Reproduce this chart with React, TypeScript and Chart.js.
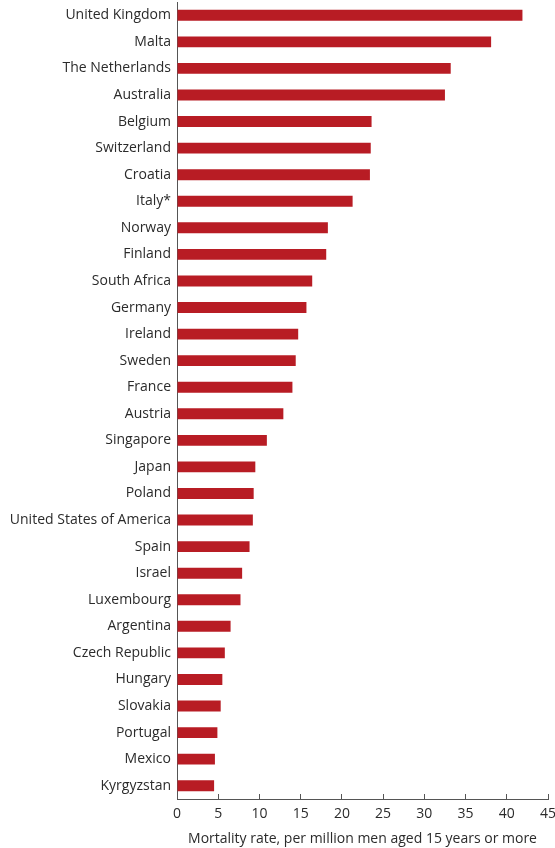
import React, { useEffect, useRef } from "react";
import { Chart, registerables } from "chart.js";

Chart.register(...registerables);

const countries = [
  "United Kingdom", "Malta", "The Netherlands", "Australia", "Belgium",
  "Switzerland", "Croatia", "Italy*", "Norway", "Finland",
  "South Africa", "Germany", "Ireland", "Sweden", "France",
  "Austria", "Singapore", "Japan", "Poland", "United States of America",
  "Spain", "Israel", "Luxembourg", "Argentina", "Czech Republic",
  "Hungary", "Slovakia", "Portugal", "Mexico", "Kyrgyzstan",
];

const mortalityRates = [
  41.9, 38.1, 33.2, 32.5, 23.6,
  23.5, 23.4, 21.3, 18.3, 18.1,
  16.4, 15.7, 14.7, 14.4, 14.0,
  12.9, 10.9, 9.5, 9.3, 9.2,
  8.8, 7.9, 7.7, 6.5, 5.8,
  5.5, 5.3, 4.9, 4.6, 4.5,
];

const xTicks = [0, 5, 10, 15, 20, 25, 30, 35, 40, 45];
const xTitle = "Mortality rate, per million men aged 15 years or more";

const FONT = "'Open Sans', sans-serif";
const BAR = "#b81c24";
const TEXT = "#2b2b2b";
const AXIS = "#555555";

export default function App() {
  const ref = useRef<HTMLCanvasElement | null>(null);

  useEffect(() => {
    document.body.style.margin = "0";
    if (!ref.current) return;
    const zeroPad = (scale: any) => {
      scale.paddingTop = 0;
      scale.paddingBottom = 0;
      scale.paddingLeft = 0;
      scale.paddingRight = 0;
    };
    const chart = new Chart(ref.current, {
      type: "bar",
      data: {
        labels: countries,
        datasets: [
          {
            data: mortalityRates,
            backgroundColor: BAR,
            borderWidth: 0,
            categoryPercentage: 1,
            barPercentage: 0.41,
          },
        ],
      },
      options: {
        indexAxis: "y",
        animation: false,
        responsive: false,
        maintainAspectRatio: false,
        layout: { padding: { top: 2, right: 7, left: 0, bottom: 0 } },
        plugins: { legend: { display: false }, tooltip: { enabled: false } },
        scales: {
          x: {
            min: 0,
            max: 45,
            afterBuildTicks: (scale: any) => {
              scale.ticks = xTicks.map((v) => ({ value: v }));
            },
            afterFit: (scale: any) => {
              scale.height = 49;
              zeroPad(scale);
            },
            grid: {
              drawOnChartArea: false,
              drawTicks: true,
              tickLength: -5,
              color: AXIS,
              lineWidth: 1,
            },
            border: { display: true, color: AXIS, width: 1 },
            ticks: {
              color: TEXT,
              font: { family: FONT, size: 14 },
              padding: 12,
              maxRotation: 0,
            },
            title: {
              display: true,
              text: xTitle,
              color: TEXT,
              font: { family: FONT, size: 14 },
              padding: { top: 0, bottom: 1 },
            },
          },
          y: {
            afterFit: (scale: any) => {
              scale.width = 177;
              zeroPad(scale);
            },
            grid: { display: false, drawTicks: false },
            border: { display: true, color: AXIS, width: 1 },
            ticks: {
              color: TEXT,
              font: { family: FONT, size: 14 },
              padding: 6,
            },
          },
        },
      },
    });
    return () => chart.destroy();
  }, []);

  return (
    <div style={{ position: "absolute", left: 0, top: 0, width: 555, height: 848 }}>
      <canvas ref={ref} width={555} height={848} style={{ width: 555, height: 848 }} />
    </div>
  );
}
